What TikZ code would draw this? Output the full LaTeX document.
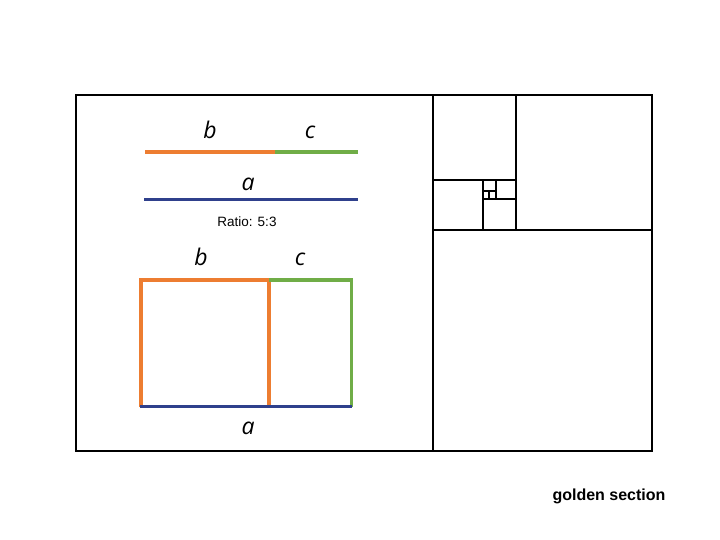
\documentclass[tikz,border=0pt]{standalone}
\usepackage{fontspec}
\setmainfont{Liberation Sans}
\newfontfamily\lblfont{Open Sans}
\usetikzlibrary{math}

\definecolor{segorange}{RGB}{237,125,49}
\definecolor{seggreen}{RGB}{112,173,71}
\definecolor{segblue}{RGB}{47,64,140}

\begin{document}
\begin{tikzpicture}[x=1pt,y=-1pt,
    frame/.style={line width=2pt},
    seg/.style={line width=3.5pt},
    lbl/.style={anchor=base,font=\fontsize{23}{23}\selectfont\lblfont\itshape}]
    \useasboundingbox (0,0) rectangle (720,540);
    % The golden rectangle and its squares
    \tikzmath{\xl=76;\xr=652;\yt=95;\yb=451;\xs=433;}
    \draw[frame] (\xl,\yt) rectangle (\xr,\yb);
    \draw[frame] (\xs,\yt) -- (\xs,\yb);
    \draw[frame] (\xs,230) -- (\xr,230);
    \draw[frame] (516,\yt) -- (516,230);
    \draw[frame] (\xs,180) -- (516,180);
    \draw[frame] (483,180) -- (483,230);
    \draw[frame] (483,199) -- (516,199);
    \draw[frame] (495.7,180) -- (495.7,199);
    \draw[line width=1.5pt] (483,191) -- (495.7,191);
    \draw[line width=1.5pt] (489,191) -- (489,199);

    % The segments
    \draw[seg,segorange] (145,152) -- (275,152);
    \draw[seg,seggreen] (275,152) -- (357.5,152);
    \draw[seg,segblue] (144,199.5) -- (357.5,199.5);
    \node[lbl] (lb1) at (210,139) {b};
    \node[lbl] (lc1) at (310,139) {c};
    \node[lbl] (la1) at (248,191) {a};
    \node[anchor=base,font=\fontsize{13.5}{13.5}\selectfont] (ratio) at (247,226.5) {Ratio: 5:3};

    % The two rectangles
    \draw[seg,segorange] (141,406.7) -- (141,280) -- (269,280) -- (269,406.7);
    \draw[seg,seggreen] (269,280) -- (351.7,280) -- (351.7,406.7);
    \draw[seg,segblue] (139.5,406.7) -- (351.7,406.7);
    \node[lbl] (lb2) at (201,265) {b};
    \node[lbl] (lc2) at (300,265) {c};
    \node[lbl] (la2) at (248,434) {a};

    \node[anchor=base,font=\fontsize{16}{16}\selectfont\bfseries] (title) at (609,500) {golden section};
\end{tikzpicture}
\end{document}
